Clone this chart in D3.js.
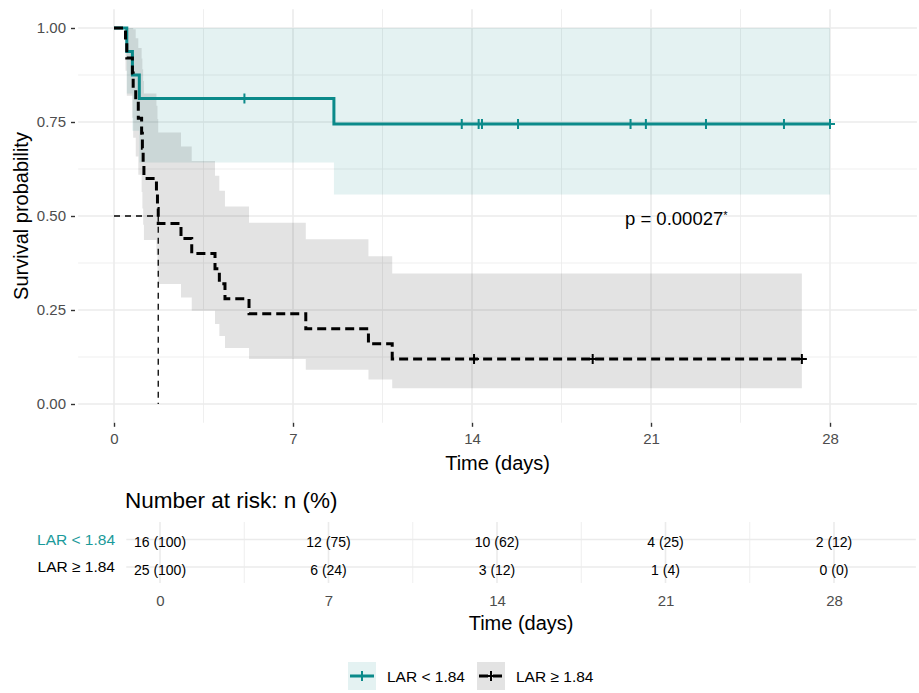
<!DOCTYPE html>
<html>
<head>
<meta charset="utf-8">
<script src="https://cdn.jsdelivr.net/npm/d3@7"></script>
<style>
    body { margin: 0; background: #ffffff; }
    svg  { display: block; font-family: "Liberation Sans", Arial, sans-serif; }
</style>
</head>
<body>
<script>
// ---- data ----
var groups      = ["LAR < 1.84", "LAR \u2265 1.84"];
var groupColors = ["#0b8a8a", "#000000"];

var timeTicks   = [0, 7, 14, 21, 28];
var survTicks   = [0, 0.25, 0.5, 0.75, 1];

// LAR < 1.84 (n = 16)
var lowTime   = [0, 0.5, 0.72, 0.99, 8.6, 28];
var lowSurv   = [1, 0.9375, 0.875, 0.8125, 0.745, 0.745];
var lowUpper  = [1, 1, 1, 1, 1, 1];
var lowLower  = [1, 0.826, 0.727, 0.642, 0.557, 0.557];
var lowCensor = [5.1, 13.6, 14.26, 14.39, 15.8, 20.2, 20.8, 23.15, 26.2, 28];

// LAR >= 1.84 (n = 25)
var highTime   = [0, 0.45, 0.5, 0.72, 0.75, 0.85, 0.95, 1.08, 1.11, 1.14, 1.17, 1.66, 1.70, 1.73,
                  2.62, 3.04, 3.95, 4.12, 4.34, 5.28, 7.5, 9.95, 10.88, 26.9];
var highSurv   = [1, 0.96, 0.92, 0.88, 0.84, 0.80, 0.76, 0.72, 0.68, 0.64, 0.60, 0.56, 0.52, 0.48,
                  0.44, 0.40, 0.36, 0.32, 0.28, 0.24, 0.20, 0.16, 0.12, 0.12];
var highUpper  = [1, 1, 1, 1, 0.997, 0.973, 0.947, 0.919, 0.890, 0.859, 0.826, 0.793, 0.758, 0.722,
                  0.685, 0.646, 0.607, 0.567, 0.525, 0.482, 0.438, 0.393, 0.347, 0.347];
var highLower  = [1, 0.886, 0.820, 0.761, 0.708, 0.658, 0.610, 0.564, 0.520, 0.477, 0.436, 0.396, 0.357, 0.319,
                  0.283, 0.248, 0.213, 0.181, 0.149, 0.120, 0.091, 0.065, 0.042, 0.042];
var highCensor = [14.08, 18.72, 26.9];

var medianTime = 1.73;
var pText      = "p = 0.00027";

var riskLow  = ["16 (100)", "12 (75)", "10 (62)", "4 (25)", "2 (12)"];
var riskHigh = ["25 (100)", "6 (24)", "3 (12)", "1 (4)", "0 (0)"];

// ---- layout ----
var width  = 919;
var height = 693;
var textGrey = "#4d4d4d";
var gridCol  = "#ebebeb";

var x  = d3.scaleLinear().domain([0, 28]).range([114, 830]);
var y  = d3.scaleLinear().domain([0, 1]).range([404, 28]);
var xt = d3.scaleLinear().domain([0, 28]).range([160, 834]);
var yt = d3.scalePoint().domain(groups).range([539.5, 567]);

var panel = { left: x(-1.4), right: x(31.4), top: y(1.05), bottom: y(-0.05) };
var table = { left: xt(-1.4), right: xt(31.4), top: 522, bottom: 583 };

var curves = [
    { name: groups[0], color: groupColors[0], dash: null,  time: lowTime,  surv: lowSurv,
      upper: lowUpper,  lower: lowLower,  censor: lowCensor,  risk: riskLow },
    { name: groups[1], color: groupColors[1], dash: "9,5", time: highTime, surv: highSurv,
      upper: highUpper, lower: highLower, censor: highCensor, risk: riskHigh }
];

curves.forEach(function (c) {
    c.points = c.time.map(function (t, i) {
        return { t: t, s: c.surv[i], lo: c.lower[i], hi: c.upper[i] };
    });
});

var svg = d3
    .select("body")
    .append("svg")
    .attr("width", width)
    .attr("height", height);

// ---- survival panel grid ----
var grid = svg.append("g").attr("class", "grid");
grid.selectAll("line.vminor")
    .data([3.5, 10.5, 17.5, 24.5])
    .enter().append("line")
    .attr("x1", function (d) { return x(d); }).attr("x2", function (d) { return x(d); })
    .attr("y1", panel.top).attr("y2", panel.bottom)
    .attr("stroke", gridCol).attr("stroke-width", 0.8);
grid.selectAll("line.hminor")
    .data([0.125, 0.375, 0.625, 0.875])
    .enter().append("line")
    .attr("y1", function (d) { return y(d); }).attr("y2", function (d) { return y(d); })
    .attr("x1", panel.left).attr("x2", panel.right)
    .attr("stroke", gridCol).attr("stroke-width", 0.8);
grid.selectAll("line.vmajor")
    .data(timeTicks)
    .enter().append("line")
    .attr("x1", function (d) { return x(d); }).attr("x2", function (d) { return x(d); })
    .attr("y1", panel.top).attr("y2", panel.bottom)
    .attr("stroke", gridCol).attr("stroke-width", 1.6);
grid.selectAll("line.hmajor")
    .data(survTicks)
    .enter().append("line")
    .attr("y1", function (d) { return y(d); }).attr("y2", function (d) { return y(d); })
    .attr("x1", panel.left).attr("x2", panel.right)
    .attr("stroke", gridCol).attr("stroke-width", 1.6);

// ---- confidence bands ----
var band = d3.area()
    .curve(d3.curveStepAfter)
    .x(function (d) { return x(d.t); })
    .y0(function (d) { return y(d.lo); })
    .y1(function (d) { return y(d.hi); });

svg.append("g").selectAll("path")
    .data(curves)
    .enter().append("path")
    .attr("d", function (d) { return band(d.points); })
    .attr("fill", function (d) { return d.color; })
    .attr("fill-opacity", 0.11);

// ---- median line ----
svg.append("path")
    .attr("d", "M" + x(0) + "," + y(0.5) + "H" + x(medianTime) + "V" + y(0))
    .attr("fill", "none")
    .attr("stroke", "#000")
    .attr("stroke-width", 1.3)
    .attr("stroke-dasharray", "6,5");

// ---- survival curves ----
var step = d3.line()
    .curve(d3.curveStepAfter)
    .x(function (d) { return x(d.t); })
    .y(function (d) { return y(d.s); });

svg.append("g").selectAll("path")
    .data(curves)
    .enter().append("path")
    .attr("d", function (d) { return step(d.points); })
    .attr("fill", "none")
    .attr("stroke", function (d) { return d.color; })
    .attr("stroke-width", 3)
    .attr("stroke-dasharray", function (d) { return d.dash; });

// ---- censor marks ----
function survAt(c, t) {
    var i = d3.bisectRight(c.time, t) - 1;
    return c.surv[Math.max(0, i)];
}
curves.forEach(function (c) {
    svg.append("g").selectAll("path")
        .data(c.censor)
        .enter().append("path")
        .attr("d", function (t) {
            var cx = x(t), cy = y(survAt(c, t));
            return "M" + (cx - 5) + "," + cy + "H" + (cx + 5) + "M" + cx + "," + (cy - 5) + "V" + (cy + 5);
        })
        .attr("stroke", c.color)
        .attr("stroke-width", 2)
        .attr("fill", "none");
});

// ---- p-value ----
var pLabel = svg.append("text")
    .attr("x", 625)
    .attr("y", 225)
    .attr("font-size", 18.5)
    .attr("fill", "#000")
    .text(pText);
pLabel.append("tspan")
    .attr("dy", -6)
    .attr("font-size", 11)
    .text("*");

// ---- axes ----
var yAxis = svg.append("g")
    .attr("transform", "translate(75,0)")
    .call(d3.axisLeft(y).tickValues(survTicks).tickFormat(d3.format(".2f")).tickSize(4).tickPadding(5));
var xAxis = svg.append("g")
    .attr("transform", "translate(0," + panel.bottom + ")")
    .call(d3.axisBottom(x).tickValues(timeTicks).tickSize(4).tickPadding(7));

[yAxis, xAxis].forEach(function (a) {
    a.select(".domain").remove();
    a.selectAll(".tick line").attr("stroke", "#333").attr("stroke-width", 1.4);
    a.selectAll(".tick text")
        .attr("fill", textGrey)
        .attr("font-size", 15)
        .attr("font-family", "Liberation Sans, Arial, sans-serif");
});

svg.append("text")
    .attr("x", (panel.left + panel.right) / 2)
    .attr("y", 470)
    .attr("text-anchor", "middle")
    .attr("font-size", 20)
    .text("Time (days)");

svg.append("text")
    .attr("transform", "translate(28," + (panel.top + panel.bottom) / 2 + ") rotate(-90)")
    .attr("text-anchor", "middle")
    .attr("font-size", 20)
    .text("Survival probability");

// ---- risk table ----
svg.append("text")
    .attr("x", 125)
    .attr("y", 508)
    .attr("font-size", 22.5)
    .text("Number at risk: n (%)");

var tgrid = svg.append("g");
tgrid.selectAll("line.v")
    .data([0, 3.5, 7, 10.5, 14, 17.5, 21, 24.5, 28])
    .enter().append("line")
    .attr("x1", function (d) { return xt(d); }).attr("x2", function (d) { return xt(d); })
    .attr("y1", table.top).attr("y2", table.bottom)
    .attr("stroke", gridCol)
    .attr("stroke-width", function (d) { return d % 7 === 0 ? 1.6 : 0.8; });
tgrid.selectAll("line.h")
    .data(groups)
    .enter().append("line")
    .attr("y1", function (d) { return yt(d); }).attr("y2", function (d) { return yt(d); })
    .attr("x1", table.left).attr("x2", table.right)
    .attr("stroke", gridCol).attr("stroke-width", 1.6);

svg.append("g").selectAll("text")
    .data(curves)
    .enter().append("text")
    .attr("x", 115)
    .attr("y", function (d) { return yt(d.name) + 5; })
    .attr("text-anchor", "end")
    .attr("font-size", 15.5)
    .attr("fill", function (d) { return d.color === "#000000" ? "#000" : "#1a9a9a"; })
    .text(function (d) { return d.name; });

curves.forEach(function (c) {
    svg.append("g").selectAll("text")
        .data(c.risk)
        .enter().append("text")
        .attr("x", function (d, i) { return xt(timeTicks[i]); })
        .attr("y", yt(c.name) + 7.5)
        .attr("text-anchor", "middle")
        .attr("font-size", 14)
        .attr("fill", "#000")
        .text(function (d) { return d; });
});

var tAxis = svg.append("g")
    .attr("transform", "translate(0," + table.bottom + ")")
    .call(d3.axisBottom(xt).tickValues(timeTicks).tickSize(0).tickPadding(12));
tAxis.select(".domain").remove();
tAxis.selectAll(".tick text")
    .attr("fill", textGrey)
    .attr("font-size", 15)
    .attr("font-family", "Liberation Sans, Arial, sans-serif");

svg.append("text")
    .attr("x", (table.left + table.right) / 2)
    .attr("y", 630)
    .attr("text-anchor", "middle")
    .attr("font-size", 20)
    .text("Time (days)");

// ---- legend ----
var legendX = [348, 477];
var legend = svg.append("g").selectAll("g")
    .data(curves)
    .enter().append("g")
    .attr("transform", function (d, i) { return "translate(" + legendX[i] + ",662)"; });
legend.append("rect")
    .attr("width", 28).attr("height", 28)
    .attr("fill", function (d) { return d.color; })
    .attr("fill-opacity", 0.11);
legend.append("line")
    .attr("x1", 2).attr("x2", 26).attr("y1", 14).attr("y2", 14)
    .attr("stroke", function (d) { return d.color; })
    .attr("stroke-width", 3)
    .attr("stroke-dasharray", function (d) { return d.dash; });
legend.append("path")
    .attr("d", "M9,14H19M14,9V19")
    .attr("stroke", function (d) { return d.color; })
    .attr("stroke-width", 2);
legend.append("text")
    .attr("x", 39)
    .attr("y", 20)
    .attr("font-size", 15.5)
    .text(function (d) { return d.name; });
</script>
</body>
</html>
